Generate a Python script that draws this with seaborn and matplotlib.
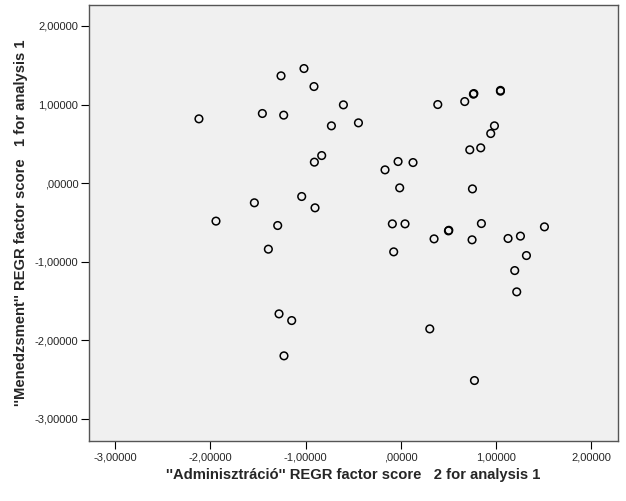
import numpy as np
import pandas as pd
import matplotlib
matplotlib.use("Agg")
import matplotlib.pyplot as plt
from matplotlib.ticker import FuncFormatter, FixedLocator
import seaborn as sns

# factor scores (x = Adminisztráció, y = Menedzsment)
admin = [-2.119, -1.453, -1.229, -1.257, -1.016, -0.911, -0.907, -0.830,
         -1.040, -1.537, -0.900, -1.940, -1.292, -1.390, -1.278, -1.145,
         -1.226, -0.602, -0.728, -0.444, 0.389, 0.672, 0.763, 0.768,
         1.047, 1.047, 0.984, 0.945, 0.725, 0.840, -0.165, -0.028,
         0.129, -0.011, 0.753, -0.088, 0.045, 0.847, 0.501, 0.505,
         0.350, 0.749, 1.127, 1.257, 1.509, -0.074, 1.320, 1.197,
         1.218, 0.305, 0.774]
menedzs = [0.818, 0.886, 0.865, 1.365, 1.458, 1.229, 0.267, 0.351,
           -0.170, -0.250, -0.314, -0.483, -0.539, -0.840, -1.663, -1.748,
           -2.197, 0.996, 0.729, 0.767, 1.000, 1.038, 1.132, 1.140,
           1.170, 1.180, 0.729, 0.631, 0.424, 0.449, 0.169, 0.275,
           0.262, -0.060, -0.073, -0.518, -0.518, -0.514, -0.607, -0.600,
           -0.709, -0.721, -0.704, -0.674, -0.556, -0.874, -0.921, -1.112,
           -1.383, -1.854, -2.511]

x_ticks = [-3, -2, -1, 0, 1, 2]
y_ticks = [-3, -2, -1, 0, 1, 2]
x_label = "''Adminisztráció'' REGR factor score   2 for analysis 1"
y_label = "''Menedzsment'' REGR factor score   1 for analysis 1"

df = pd.DataFrame({"admin": admin, "menedzs": menedzs})

sns.set_style("ticks")
plt.rcParams['font.family'] = ['Liberation Sans', 'DejaVu Sans']

fig = plt.figure(figsize=(6.26, 5.01), dpi=100)
ax = fig.add_axes([0.1427, 0.1198, 0.987 - 0.1427, 0.9906 - 0.1198])
ax.set_facecolor("#f0f0f0")

sns.scatterplot(data=df, x="admin", y="menedzs", ax=ax, marker="o", s=30,
                edgecolor="black", linewidth=1.1, legend=False)
ax.collections[0].set_facecolor("none")
ax.collections[0].set_edgecolor("black")

ax.set_xlim(-3.27, 2.28)
ax.set_ylim(-3.28, 2.27)


def spss_fmt(v, pos):
    s = f"{v:.5f}".replace(".", ",")
    if s.startswith("0,"):
        s = s[1:]
    if s.startswith("-0,") and abs(v) < 1e-9:
        s = s[2:]
    return s


ax.xaxis.set_major_locator(FixedLocator(x_ticks))
ax.yaxis.set_major_locator(FixedLocator(y_ticks))
ax.xaxis.set_major_formatter(FuncFormatter(spss_fmt))
ax.yaxis.set_major_formatter(FuncFormatter(spss_fmt))
ax.tick_params(axis="both", direction="out", length=6, width=0.8,
               labelsize=8, color="black", pad=2)

for sp in ax.spines.values():
    sp.set_visible(True)
    sp.set_color("#555555")
    sp.set_linewidth(1.0)

ax.set_xlabel(x_label, fontsize=10.6, fontweight="bold", labelpad=4)
ax.set_ylabel(y_label, fontsize=10.6, fontweight="bold", labelpad=5)

fig.savefig("out.png", dpi=100)
